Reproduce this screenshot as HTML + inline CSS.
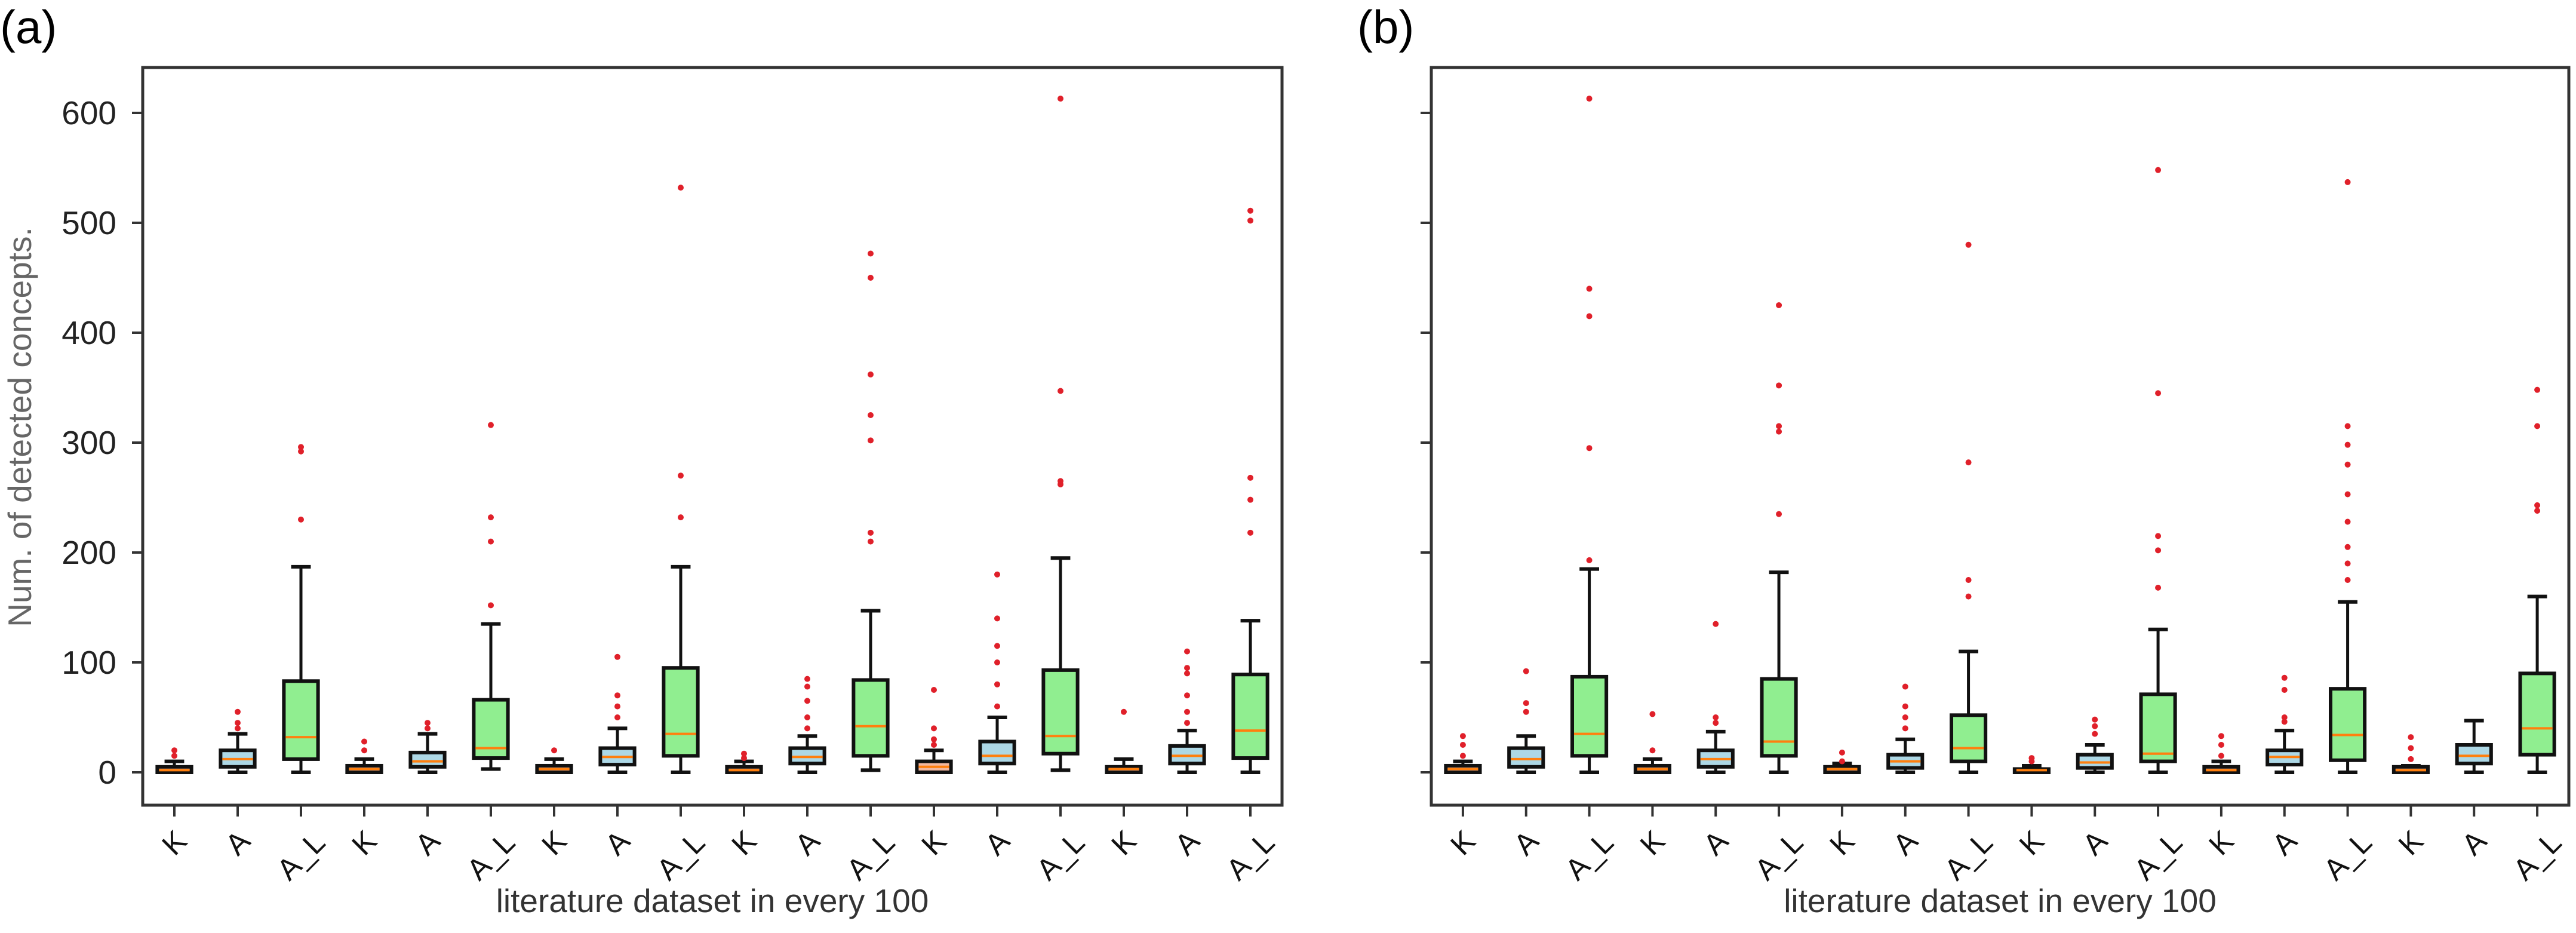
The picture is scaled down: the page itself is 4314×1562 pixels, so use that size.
<!DOCTYPE html>
<html><head><meta charset="utf-8"><style>
html,body{margin:0;padding:0;background:#fff;}
svg{display:block;font-family:"Liberation Sans","DejaVu Sans",sans-serif;}
</style></head><body>
<svg id="chart" width="4314" height="1562" viewBox="0 0 4314 1562" xmlns="http://www.w3.org/2000/svg">
<text x="0" y="72" font-size="78" fill="#000">(a)</text>
<text x="2273" y="72" font-size="78" fill="#000">(b)</text>
</svg>
<script>
const categories = ["K","A","A_L","K","A","A_L","K","A","A_L","K","A","A_L","K","A","A_L","K","A","A_L"];
const yTicks = [0,100,200,300,400,500,600];
// panel a: [whislo, q1, med, q3, whishi]
const statsA = [
 [0,0,2,5,10],[0,5,12,20,35],[0,12,32,83,187],
 [0,0,3,6,12],[0,5,10,18,35],[3,13,22,66,135],
 [0,0,3,6,12],[0,7,14,22,40],[0,15,35,95,187],
 [0,0,2,5,10],[0,8,14,22,33],[2,15,42,84,147],
 [0,0,5,10,20],[0,8,15,28,50],[2,17,33,93,195],
 [0,0,3,5,12],[0,8,15,24,38],[0,13,38,89,138]
];
const fliersA = [
 [15,20],[40,45,55],[230,292,296],
 [20,28],[40,45],[152,210,232,316],
 [20],[50,60,70,105],[232,270,532],
 [13,17],[40,50,65,78,85],[210,218,302,325,362,450,472],
 [25,30,40,75],[60,80,100,115,140,180],[262,265,347,613],
 [55],[45,55,70,90,95,110],[218,248,268,502,511]
];
const statsB = [
 [0,0,3,6,10],[0,5,12,22,33],[0,15,35,87,185],
 [0,0,3,6,12],[0,5,12,20,37],[0,15,28,85,182],
 [0,0,3,5,8],[0,4,10,16,30],[0,10,22,52,110],
 [0,0,2,3,6],[0,4,9,16,25],[0,10,17,71,130],
 [0,0,2,5,10],[0,7,14,20,38],[0,11,34,76,155],
 [0,0,2,5,6],[0,8,15,25,47],[0,16,40,90,160]
];
const fliersB = [
 [15,25,33],[55,63,92],[193,295,415,440,613],
 [20,53],[45,50,135],[235,310,315,352,425],
 [10,18],[40,50,60,78],[160,175,282,480],
 [10,13],[35,42,48],[168,202,215,345,548],
 [15,25,33],[46,50,75,86],[175,190,205,228,253,280,298,315,537],
 [12,22,32],[],[238,243,315,348]
];

const NS="http://www.w3.org/2000/svg";
const svg=document.getElementById('chart');
function mk(tag,attrs,parent){const e=document.createElementNS(NS,tag);for(const k in attrs)e.setAttribute(k,attrs[k]);(parent||svg).appendChild(e);return e;}
const Y0=1293, PX=1.84, TOP=113, BOT=1348;
function yScale(v){return Y0-v*PX;}
const fills={"K":"#f2b8a0","A":"#add8e6","A_L":"#90ee90"};

function panel(left,right,stats,fliers,showLabels,id){
  const g=mk('g',{});
  
  
  const step=(right-left)/18;
  function xScale(i){return left+step*(i+0.5);}
  const bw=step*0.54, cw=step*0.31;
  // y ticks
  yTicks.forEach(t=>{
    const y=yScale(t);
    const tk=mk('line',{x1:left-18,x2:left,y1:y,y2:y,stroke:'#333','stroke-width':4},g);
    
    
    if(showLabels){
      const tx=mk('text',{x:left-44,y:y+19,'font-size':55,'text-anchor':'end',fill:'#222'},g);
      tx.textContent=t;
      
      
    }
  });
  categories.forEach((c,i)=>{
    const x=xScale(i);const s=stats[i];
    const bg=mk('g',{},g);
    
    
    mk('line',{x1:x,x2:x,y1:yScale(s[0]),y2:yScale(s[1]),stroke:'#111','stroke-width':5},bg);
    mk('line',{x1:x,x2:x,y1:yScale(s[3]),y2:yScale(s[4]),stroke:'#111','stroke-width':5},bg);
    mk('line',{x1:x-cw/2,x2:x+cw/2,y1:yScale(s[0]),y2:yScale(s[0]),stroke:'#111','stroke-width':6},bg);
    mk('line',{x1:x-cw/2,x2:x+cw/2,y1:yScale(s[4]),y2:yScale(s[4]),stroke:'#111','stroke-width':6},bg);
    mk('rect',{x:x-bw/2,y:yScale(s[3]),width:bw,height:Math.max(1,yScale(s[1])-yScale(s[3])),fill:fills[c],stroke:'#111','stroke-width':6},bg);
    mk('line',{x1:x-bw/2+3,x2:x+bw/2-3,y1:yScale(s[2]),y2:yScale(s[2]),stroke:'#ff7f0e','stroke-width':4},bg);
    fliers[i].forEach(f=>{
      const d=mk('circle',{cx:x,cy:yScale(f),r:5,fill:'#e0202a'},bg);
      
      
    });
    const tk=mk('line',{x1:x,x2:x,y1:BOT,y2:BOT+19,stroke:'#333','stroke-width':4},g);
    
    
    const cy=c.length>1?1433:1411;
    const tl=mk('text',{x:0,y:0,'font-size':50,'text-anchor':'middle','dominant-baseline':'central',fill:'#111',transform:`translate(${x},${cy}) rotate(-45)`},g);
    tl.textContent=c;
    
    
  });
  const fr=mk('rect',{x:left,y:TOP,width:right-left,height:BOT-TOP,fill:'none',stroke:'#333','stroke-width':5},g);
  
  
  const xl=mk('text',{x:(left+right)/2,y:1527,'font-size':55,'text-anchor':'middle',fill:'#333'},g);
  xl.textContent='literature dataset in every 100';
  
  
}
panel(239,2147,statsA,fliersA,true,'a');
panel(2397,4302,statsB,fliersB,false,'b');
const yl=mk('text',{x:0,y:0,'font-size':55,'text-anchor':'middle',fill:'#666',transform:'translate(52,715) rotate(-90)'});
yl.textContent='Num. of detected concepts.';


</script>
</body></html>
